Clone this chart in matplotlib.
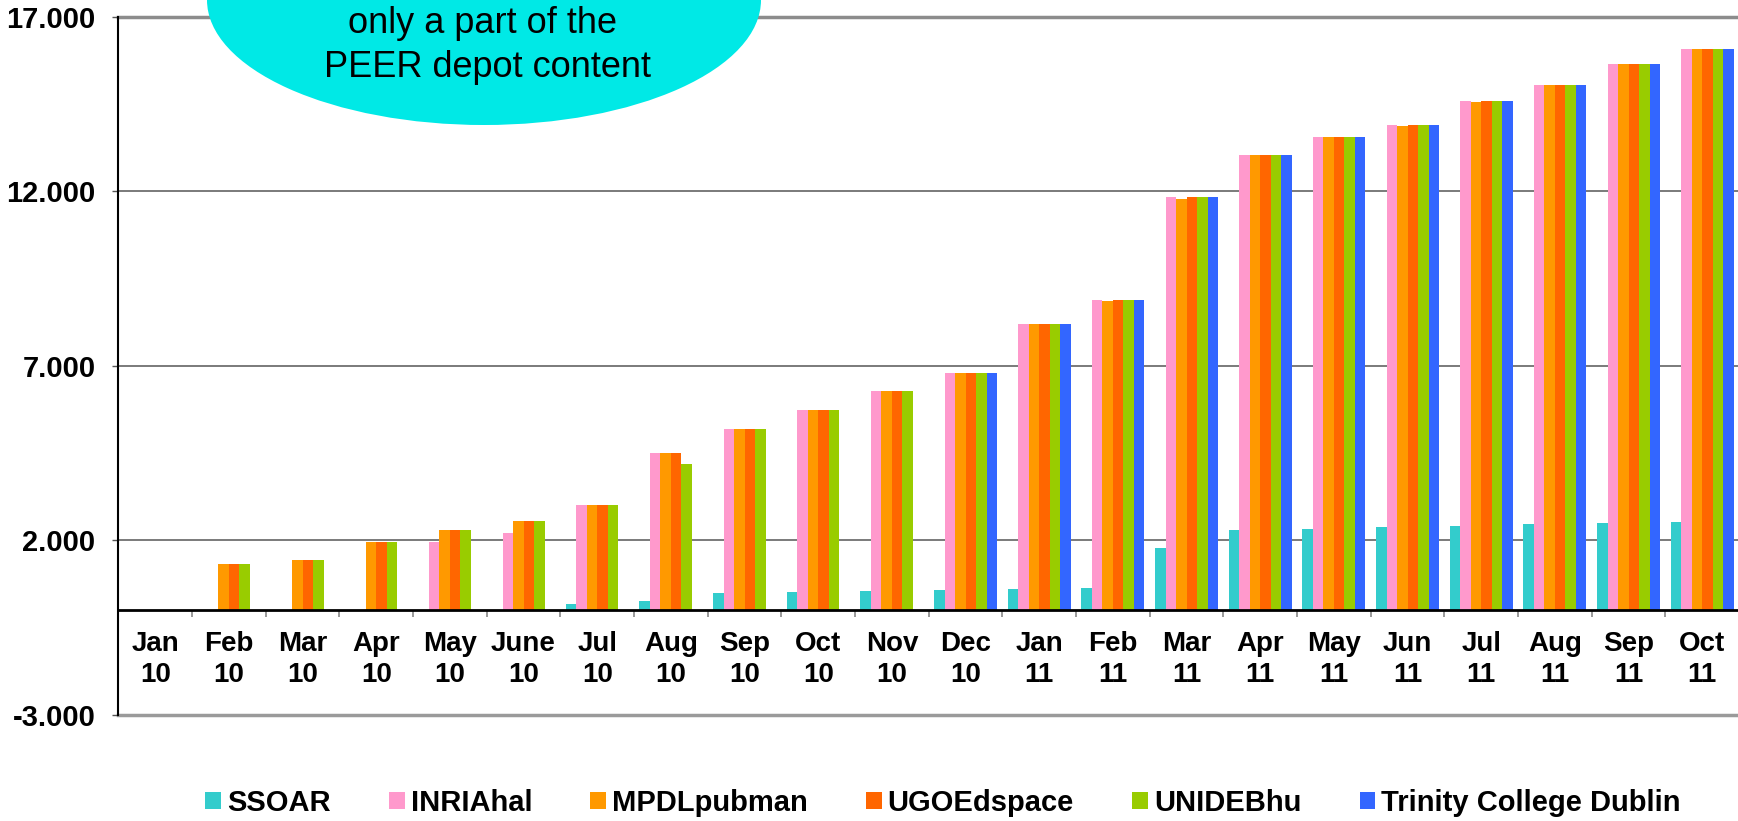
import numpy as np
import matplotlib
matplotlib.use("Agg")
import matplotlib.pyplot as plt
from matplotlib.patches import Ellipse

plt.rcParams['font.family'] = ['Liberation Sans', 'DejaVu Sans']

# month labels (two lines each)
months = ["Jan\n10", "Feb\n10", "Mar\n10", "Apr\n10", "May\n10", "June\n10",
          "Jul\n10", "Aug\n10", "Sep\n10", "Oct\n10", "Nov\n10", "Dec\n10",
          "Jan\n11", "Feb\n11", "Mar\n11", "Apr\n11", "May\n11", "Jun\n11",
          "Jul\n11", "Aug\n11", "Sep\n11", "Oct\n11"]

ssoar = [0, 0, 0, 0, 0, 0, 181, 267, 490, 520, 554, 573,
         602, 630, 1778, 2286, 2318, 2380, 2413, 2476, 2490, 2528]
inria = [0, 0, 0, 0, 1948, 2206, 3018, 4508, 5177, 5731, 6286, 6794,
         8190, 8883, 11825, 13029, 13553, 13888, 14576, 15053, 15635, 16065]
mpdl = [0, 1338, 1452, 1968, 2292, 2550, 3018, 4508, 5177, 5731, 6286, 6794,
        8190, 8860, 11786, 13029, 13553, 13870, 14547, 15034, 15635, 16065]
ugoe = [0, 1338, 1452, 1968, 2312, 2550, 3018, 4508, 5177, 5731, 6286, 6794,
        8190, 8883, 11825, 13029, 13553, 13888, 14576, 15053, 15635, 16065]
unideb = [0, 1318, 1452, 1968, 2300, 2550, 3018, 4175, 5177, 5731, 6286, 6794,
          8190, 8883, 11825, 13029, 13553, 13888, 14576, 15053, 15635, 16065]
tcd = [0, 0, 0, 0, 0, 0, 0, 0, 0, 0, 0, 6794,
       8190, 8883, 11825, 13029, 13553, 13888, 14576, 15053, 15635, 16065]

series = [("SSOAR", ssoar, "#33CCCC"),
          ("INRIAhal", inria, "#FF99CC"),
          ("MPDLpubman", mpdl, "#FF9900"),
          ("UGOEdspace", ugoe, "#FF6600"),
          ("UNIDEBhu", unideb, "#99CC00"),
          ("Trinity College Dublin", tcd, "#3366FF")]

yticks = [-3000, 2000, 7000, 12000, 17000]
ytick_labels = ["-3.000", "2.000", "7.000", "12.000", "17.000"]

fig = plt.figure(figsize=(17.38, 8.21), dpi=100)
ax = fig.add_axes([0.0681, 0.1291, 0.9325, 0.8507])

x = np.arange(len(months))
w = 0.1425
for k, (name, vals, col) in enumerate(series):
    ax.bar(x + (k - 2.5) * w, vals, width=w, color=col, label=name,
           zorder=3, linewidth=0)

ax.set_xlim(-0.5, len(months) - 0.5)
ax.set_ylim(-3000, 17000)

# grid lines
for yv in [2000, 7000, 12000]:
    ax.axhline(yv, color="#707070", lw=1.3, zorder=1)
ax.axhline(17000, color="#8c8c8c", lw=2.5, zorder=1, clip_on=False)
ax.axhline(-3000, color="#9a9a9a", lw=2.5, zorder=1, clip_on=False)

for s in ["top", "right"]:
    ax.spines[s].set_visible(False)
ax.spines["bottom"].set_position(("data", 0))
ax.spines["bottom"].set_linewidth(2)
ax.spines["bottom"].set_zorder(4)
ax.spines["left"].set_linewidth(1.5)

ax.set_yticks(yticks)
ax.set_yticklabels(ytick_labels, fontsize=21, fontweight="bold")
ax.tick_params(axis="y", length=4.5, width=1, color="#555555", pad=12)

ax.set_xticks(x)
ax.set_xticklabels(months, fontsize=20, fontweight="bold", linespacing=1.26)
ax.set_xticks(x[:-1] + 0.5, minor=True)
ax.tick_params(axis="x", which="major", length=0, pad=15)
ax.tick_params(axis="x", which="minor", length=5, width=1.2, color="#888888")

ax.legend(loc="center", bbox_to_anchor=(0.5426, 0.022),
          bbox_transform=fig.transFigure, ncol=6, frameon=False,
          prop={"size": 21, "weight": "bold"},
          handlelength=0.54, handleheight=0.54, handletextpad=0.2,
          columnspacing=2.0, borderaxespad=0)

# callout bubble at the top
W, H = 1738.0, 821.0
bubble = Ellipse((484 / W, 1.0), 554 / W, 250 / H, transform=fig.transFigure,
                 facecolor="#00E9E6", edgecolor="none", zorder=10)
fig.add_artist(bubble)
fig.text(483 / W, 1 - 33 / H, "only a part of the", fontsize=26,
         ha="center", va="baseline", zorder=11)
fig.text(487 / W, 1 - 77 / H, "PEER depot content", fontsize=26,
         ha="center", va="baseline", zorder=11)

fig.savefig("out.png", dpi=100)
